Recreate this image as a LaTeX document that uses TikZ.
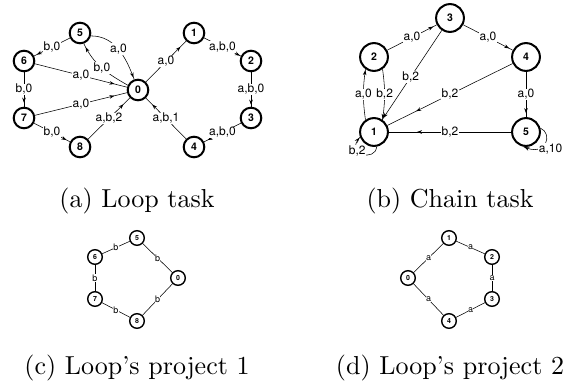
\documentclass[tikz,border=0pt]{standalone}
\usepackage{fontspec}
\newfontfamily\hv{TeX Gyre Heros}
\newfontfamily\capfont[Ligatures=TeX]{lmroman10-regular.otf}
\usetikzlibrary{arrows.meta,decorations.markings}
\tikzset{
  st/.style={circle,draw,line width=2pt,minimum size=20.6pt,inner sep=0pt,font=\hv\bfseries\fontsize{10.5}{10.5}\selectfont},
  bst/.style={st,minimum size=27.8pt},
  sm/.style={circle,draw,line width=1.4pt,minimum size=14.6pt,inner sep=0pt,font=\hv\bfseries\fontsize{7}{7}\selectfont},
  ed/.style={line width=0.55pt},
  lb/.style={fill=white,inner sep=0.6pt,font=\hv\fontsize{12}{12}\selectfont},
  slb/.style={fill=white,inner sep=0.4pt,font=\hv\fontsize{9}{9}\selectfont},
  tip/.style={postaction={decorate},decoration={markings,mark=at position #1 with {\arrow{Stealth[length=5pt,width=3.6pt]}}}},
  tip/.default=-4pt,
  capt/.style={anchor=base,font=\capfont\fontsize{26}{30}\selectfont}
}
\begin{document}
\begin{tikzpicture}
\useasboundingbox (0,0) rectangle (575pt,-385pt);
\begin{scope}[x=1pt,y=1pt]
% ---------- (a) Loop task ----------
\node[st] (l5) at (80,-33) {5};
\node[st] (l6) at (24,-61) {6};
\node[st] (l0) at (138,-90) {0};
\node[st] (l7) at (24,-118) {7};
\node[st] (l8) at (80,-147) {8};
\node[st] (l1) at (194,-33) {1};
\node[st] (l2) at (251,-61) {2};
\node[st] (l3) at (251,-118) {3};
\node[st] (l4) at (194,-147) {4};
\draw[ed,tip=-3pt] (l5) -- node[lb]{b,0} (l6);
\draw[ed,tip=-2pt] (l5.-15) to[out=0,in=110] node[lb,pos=0.5]{a,0} (l0.110);
\draw[ed,tip=-4pt] (l0.155) to[out=150,in=-65] node[lb]{b,0} (l5.-70);
\draw[ed,tip=-13pt] (l6) -- node[lb]{a,0} (l0);
\draw[ed,tip=-4pt] (l6) -- node[lb]{b,0} (l7);
\draw[ed,tip=-13pt] (l7) -- node[lb]{a,0} (l0);
\draw[ed,tip=-4pt] (l7) -- node[lb]{b,0} (l8);
\draw[ed,tip=-9pt] (l8) -- node[lb]{a,b,2} (l0);
\draw[ed,tip=-8pt] (l0) -- node[lb]{a,0} (l1);
\draw[ed,tip=-1pt] (l1) -- node[lb]{a,b,0} (l2);
\draw[ed,tip=-2pt] (l2) -- node[lb]{a,b,0} (l3);
\draw[ed,tip=-4pt] (l3) -- node[lb]{a,b,0} (l4);
\draw[ed,tip=-9pt] (l4) -- node[lb]{a,b,1} (l0);
\node[capt] (capa) at (137,-207) {(a) Loop task};
% ---------- (b) Chain task ----------
\node[bst] (c3) at (450,-18) {3};
\node[bst] (c2) at (374,-57) {2};
\node[bst] (c4) at (526,-57) {4};
\node[bst] (c1) at (374,-132) {1};
\node[bst] (c5) at (526,-132) {5};
\draw[ed,tip=-4pt] (c2) -- node[lb]{a,0} (c3);
\draw[ed,tip=-4pt] (c3) -- node[lb]{a,0} (c4);
\draw[ed,tip=-2pt] (c3) -- node[lb,pos=0.52]{b,2} (c1);
\draw[ed,tip=0.77] (c4) -- node[lb]{b,2} (c1);
\draw[ed,tip=-4pt] (c4) -- node[lb]{a,0} (c5);
\draw[ed,tip=0.77] (c5) -- node[lb]{b,2} (c1);
\draw[ed,tip=-1pt] (c1.125) to[bend left=8] node[lb]{a,0} (c2.235);
\draw[ed,tip=-1pt] (c2.305) to[bend left=8] node[lb]{b,2} (c1.55);
\draw[ed,tip=-1pt] (c1.-80) .. controls (376,-162) and (344,-155) .. node[lb,pos=0.66]{b,2} (c1.200);
\draw[ed,tip=-1pt] (c5.15) .. controls (553,-133) and (547,-158) .. node[lb,pos=0.72,anchor=west,xshift=-1pt]{a,10} (c5.-100);
\node[capt] (capb) at (450,-207) {(b) Chain task};
% ---------- (c) Loop's project 1 ----------
\node[sm] (p5) at (137,-238) {5};
\node[sm] (p6) at (95,-257) {6};
\node[sm] (p0) at (178,-278) {0};
\node[sm] (p7) at (95,-299) {7};
\node[sm] (p8) at (137,-321) {8};
\draw[ed] (p5) -- node[slb]{b} (p6);
\draw[ed] (p6) -- node[slb]{b} (p7);
\draw[ed] (p7) -- node[slb]{b} (p8);
\draw[ed] (p8) -- node[slb]{b} (p0);
\draw[ed] (p0) -- node[slb]{b} (p5);
\node[capt] (capc) at (137,-374) {(c) Loop’s project 1};
% ---------- (d) Loop's project 2 ----------
\node[sm] (q1) at (449,-238) {1};
\node[sm] (q0) at (408,-278) {0};
\node[sm] (q2) at (492,-257) {2};
\node[sm] (q3) at (492,-299) {3};
\node[sm] (q4) at (449,-321) {4};
\draw[ed] (q0) -- node[slb]{a} (q1);
\draw[ed] (q1) -- node[slb]{a} (q2);
\draw[ed] (q2) -- node[slb]{a} (q3);
\draw[ed] (q3) -- node[slb]{a} (q4);
\draw[ed] (q4) -- node[slb]{a} (q0);
\node[capt] (capd) at (450,-374) {(d) Loop’s project 2};
\end{scope}
\end{tikzpicture}
\end{document}
